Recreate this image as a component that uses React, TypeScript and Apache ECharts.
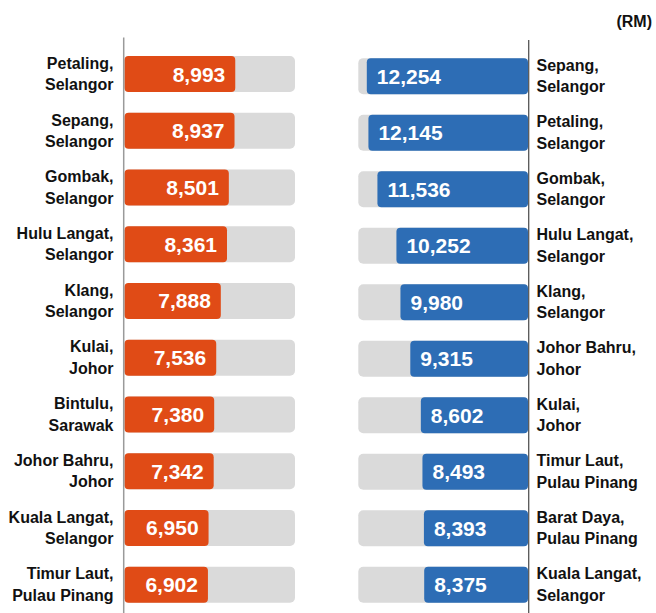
import React, { useEffect, useRef } from "react";
import * as echarts from "echarts";

const leftCategories = [
  "Petaling,\nSelangor",
  "Sepang,\nSelangor",
  "Gombak,\nSelangor",
  "Hulu Langat,\nSelangor",
  "Klang,\nSelangor",
  "Kulai,\nJohor",
  "Bintulu,\nSarawak",
  "Johor Bahru,\nJohor",
  "Kuala Langat,\nSelangor",
  "Timur Laut,\nPulau Pinang",
];
const leftValues = [8993, 8937, 8501, 8361, 7888, 7536, 7380, 7342, 6950, 6902];

const rightCategories = [
  "Sepang,\nSelangor",
  "Petaling,\nSelangor",
  "Gombak,\nSelangor",
  "Hulu Langat,\nSelangor",
  "Klang,\nSelangor",
  "Johor Bahru,\nJohor",
  "Kulai,\nJohor",
  "Timur Laut,\nPulau Pinang",
  "Barat Daya,\nPulau Pinang",
  "Kuala Langat,\nSelangor",
];
const rightValues = [12254, 12145, 11536, 10252, 9980, 9315, 8602, 8493, 8393, 8375];

const unitLabel = "(RM)";

const FONT = "'Liberation Sans', Arial, Helvetica, sans-serif";
const ORANGE = "#E04B16";
const BLUE = "#2D6DB5";
const GREY = "#DADADA";

const fmt = (v: number) => v.toLocaleString("en-US");

export default function App() {
  const ref = useRef<HTMLDivElement>(null);
  useEffect(() => {
    if (!ref.current) return;
    const chart = echarts.init(ref.current, undefined, { renderer: "svg" });
    const catLabel = {
      fontFamily: FONT,
      fontSize: 16,
      fontWeight: "bold" as const,
      color: "#111",
      lineHeight: 21.5,
    };
    const valueLabel = {
      show: true,
      fontFamily: FONT,
      fontSize: 21,
      fontWeight: "bold" as const,
      color: "#fff",
      distance: 10,
      formatter: (p: any) => fmt(p.value),
    };
    chart.setOption({
      animation: false,
      backgroundColor: "#fff",
      grid: [
        { left: 124.5, width: 170.5, top: 45.65, height: 570.8 },
        { left: 358.3, width: 169.7, top: 47.9, height: 568.6 },
      ],
      xAxis: [
        { type: "value", gridIndex: 0, min: 515, max: 13566, show: false },
        { type: "value", gridIndex: 1, min: 1358, max: 12829, inverse: true, show: false },
      ],
      yAxis: [
        {
          type: "category",
          gridIndex: 0,
          data: leftCategories,
          inverse: true,
          axisLine: { show: false },
          axisTick: { show: false },
          axisLabel: { ...catLabel, align: "right", margin: 11 },
        },
        {
          type: "category",
          gridIndex: 1,
          position: "right",
          data: rightCategories,
          inverse: true,
          axisLine: { show: false },
          axisTick: { show: false },
          axisLabel: { ...catLabel, align: "left", margin: 8.5 },
        },
      ],
      series: [
        {
          type: "bar",
          xAxisIndex: 0,
          yAxisIndex: 0,
          data: leftValues,
          barWidth: 36,
          clip: true,
          itemStyle: { color: ORANGE, borderRadius: 4 },
          showBackground: true,
          backgroundStyle: { color: GREY, borderRadius: 5 },
          label: { ...valueLabel, position: "insideRight" },
        },
        {
          type: "bar",
          xAxisIndex: 1,
          yAxisIndex: 1,
          data: rightValues,
          barWidth: 36,
          clip: true,
          itemStyle: { color: BLUE, borderRadius: 4 },
          showBackground: true,
          backgroundStyle: { color: GREY, borderRadius: 5 },
          label: { ...valueLabel, position: "insideLeft" },
        },
      ],
      graphic: [
        {
          type: "line",
          z: 10,
          shape: { x1: 123.7, y1: 37.5, x2: 123.7, y2: 613 },
          style: { stroke: "#9a9a9a", lineWidth: 1.5 },
        },
        {
          type: "line",
          z: 10,
          shape: { x1: 528.7, y1: 40, x2: 528.7, y2: 613 },
          style: { stroke: "#555", lineWidth: 1.3 },
        },
        {
          type: "text",
          right: 4,
          top: 13,
          style: {
            text: unitLabel,
            font: `bold 16px ${FONT}`,
            fill: "#111",
          },
        },
      ],
    });
    return () => chart.dispose();
  }, []);
  return (
    <div
      ref={ref}
      style={{ position: "fixed", left: 0, top: 0, width: 656, height: 613 }}
    />
  );
}
